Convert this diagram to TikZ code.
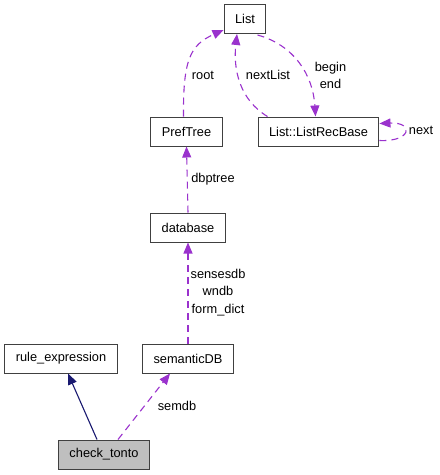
\documentclass[tikz,border=0pt]{standalone}
\usepackage{fontspec}
\setmainfont{Liberation Sans}
\usepackage{color}
\definecolor{myorchid}{RGB}{154,50,205}
\definecolor{mynavy}{RGB}{25,25,112}
\definecolor{mygrey}{RGB}{191,191,191}
\definecolor{myedge}{RGB}{64,64,64}
\usepackage{tikz}
\usetikzlibrary{arrows.meta,positioning}
\tikzstyle{classbox}=[draw=myedge,line width=1pt,fill=white,rectangle,minimum height=29pt,inner xsep=11pt,inner ysep=0pt,font=\fontsize{12.8pt}{15pt}\selectfont]
\tikzstyle{usage}=[draw=myorchid,line width=1.1pt,dash pattern=on 7pt off 5pt,-{Triangle[length=11pt,width=9pt,fill=myorchid]}]
\tikzstyle{inherit}=[draw=mynavy,line width=1.1pt,-{Triangle[length=11pt,width=9pt,fill=mynavy]}]
\tikzstyle{elabel}=[font=\fontsize{12.8pt}{17.5pt}\selectfont,inner sep=1pt,align=center]
\begin{document}
\begin{tikzpicture}[x=1pt,y=-1pt]
\useasboundingbox (0,0) rectangle (440,475);
\node [classbox] (list) at (245,19) {List};
\node [classbox] (preftree) at (186.5,131.5) {PrefTree};
\node [classbox] (recbase) at (318.5,131.5) {List::ListRecBase};
\node [classbox] (database) at (188,227.5) {database};
\node [classbox] (ruleexpr) at (61,358.5) {rule\_expression};
\node [classbox] (semdb) at (188,358.5) {semanticDB};
\node [classbox, fill=mygrey] (tonto) at (104,454.5) {check\_tonto};
% inheritance
\draw [inherit] ([xshift=-7pt]tonto.north) -- ([xshift=7pt]ruleexpr.south);
% usage
\draw [usage] ([xshift=14pt]tonto.north) -- ([xshift=-18pt]semdb.south);
\draw [usage] (semdb.north) -- (database.south);
\draw [usage] (database.north) -- (preftree.south);
\draw [usage] ([xshift=-3pt]preftree.north) .. controls (183,60) and (190,45) .. ([yshift=4pt]list.south west);
\draw [usage] ([xshift=-51pt]recbase.north) .. controls (240,100) and (233,70) .. ([xshift=-8pt]list.south);
\draw [usage] ([xshift=-9pt,yshift=-1pt]list.south east) .. controls (294,45) and (313,75) .. ([xshift=-3pt]recbase.north);
\draw [usage] ([yshift=-9pt]recbase.east) .. controls (412,142) and (414,122) .. ([yshift=8pt]recbase.east);
% labels
\node [elabel] (lsemdb) at (177,406) {semdb};
\node [elabel] (ldb) at (218,292.5) {sensesdb\\wndb\\form\_dict};
\node [elabel] (lpt) at (213,179) {dbptree};
\node [elabel] (lroot) at (203,75) {root};
\node [elabel] (lnext) at (268,75) {nextList};
\node [elabel] (lbe) at (330.5,75.5) {begin\\end};
\node [elabel] (lself) at (421,130) {next};
\end{tikzpicture}
\end{document}
